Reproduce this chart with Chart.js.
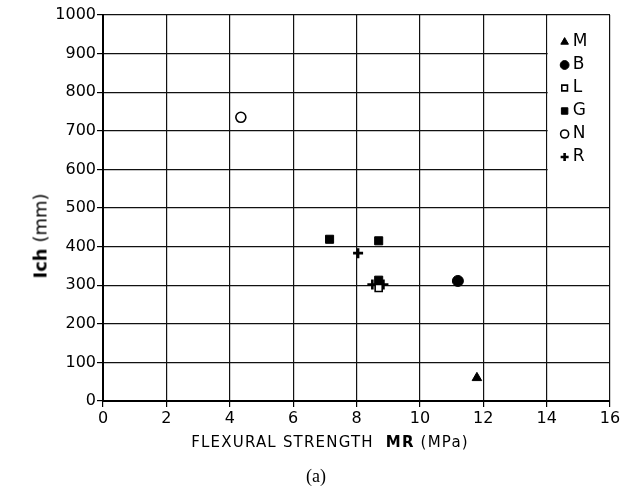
<!DOCTYPE html>
<html><head><meta charset="utf-8">
<script src="https://cdn.jsdelivr.net/npm/chart.js@4/dist/chart.umd.min.js"></script>
<style>
html,body{margin:0;padding:0;background:#fff;}
#wrap{position:relative;width:632px;height:494px;overflow:hidden;}
canvas{position:absolute;left:0;top:0;}
.t{position:absolute;font-family:"DejaVu Sans",sans-serif;color:#000;white-space:nowrap;}
</style></head><body>
<div id="wrap">
<canvas id="c" width="632" height="494"></canvas>
<div class="t" id="yt" style="left:40px;top:236px;font-size:18px;transform:translate(-50%,-50%) rotate(-90deg);"><b>Ich</b> (mm)</div>
<div class="t" id="xt" style="left:330px;top:442px;font-size:15px;letter-spacing:1.2px;transform:translate(-50%,-50%);">FLEXURAL STRENGTH&nbsp;&nbsp;<b>MR</b> (MPa)</div>
<div class="t" id="cap" style="left:316px;top:476px;font-size:18px;font-family:'Liberation Serif',serif;transform:translate(-50%,-50%);">(a)</div>
</div>
<script>
// ---- data ----
const seriesNames = ['M','B','L','G','N','R'];
const xM = [11.8];            const yM = [60];
const xB = [11.2];            const yB = [311];
const xL = [8.7];             const yL = [293];
const xG = [7.15, 8.7, 8.7];  const yG = [419, 415, 313];
const xN = [4.35];            const yN = [735];
const xR = [8.05, 8.5, 8.85]; const yR = [383, 302, 302];
const xTickLabels = ['0','2','4','6','8','10','12','14','16'];
const yTickLabels = ['0','100','200','300','400','500','600','700','800','900','1000'];

function pts(xs, ys){ return xs.map((x,i)=>({x:x, y:ys[i]})); }

const styles = {
  M:{pointStyle:'triangle', radius:5.5, bg:'#000', bw:1},
  B:{pointStyle:'circle', radius:5.5, bg:'#000', bw:1},
  L:{pointStyle:'rect', radius:5, bg:'#fff', bw:1.6},
  G:{pointStyle:'rect', radius:5.7, bg:'#000', bw:1},
  N:{pointStyle:'circle', radius:5, bg:'#fff', bw:1.6},
  R:{pointStyle:'cross', radius:5, bg:'#000', bw:2.6}
};
const xs = {M:xM,B:xB,L:xL,G:xG,N:xN,R:xR};
const ys = {M:yM,B:yB,L:yL,G:yG,N:yN,R:yR};

const datasets = seriesNames.map(n=>({
  label:n, data:pts(xs[n], ys[n]),
  pointStyle:styles[n].pointStyle, pointRadius:styles[n].radius,
  backgroundColor:styles[n].bg, borderColor:'#000', borderWidth:styles[n].bw,
  showLine:false
}));

const legendCell = {
  id:'legendCell',
  beforeDatasetsDraw(chart){
    const c = chart.ctx, sx = chart.scales.x, sy = chart.scales.y;
    const l = sx.getPixelForValue(14), r = sx.getPixelForValue(16);
    const t = sy.getPixelForValue(1000), b = sy.getPixelForValue(500);
    c.save();
    c.fillStyle = '#fff';
    c.fillRect(l+1, t+1, r-l-2, b-t-2);
    c.restore();
  },
  afterDatasetsDraw(chart){
    const c = chart.ctx, sx = chart.scales.x, sy = chart.scales.y;
    const l = sx.getPixelForValue(14);
    const t = sy.getPixelForValue(1000);
    c.save();
    chart.data.datasets.forEach((ds,i)=>{
      const y = t + 27 + i*23;
      const x = l + 18;
      c.fillStyle = ds.backgroundColor; c.strokeStyle = '#000';
      c.lineWidth = ds.borderWidth;
      Chart.helpers.drawPoint(c, {pointStyle:ds.pointStyle, radius:ds.pointRadius*0.8, rotation:0, borderWidth:ds.borderWidth}, x, y);
      c.fillStyle = '#000';
      c.font = '17px "DejaVu Sans"';
      c.textBaseline = 'middle';
      c.textAlign = 'left';
      c.fillText(ds.label, x + 8, y);
    });
    c.restore();
  }
};

new Chart(document.getElementById('c'), {
  type:'scatter',
  data:{datasets:datasets},
  options:{
    responsive:false, animation:false, devicePixelRatio:1,
    layout:{padding:{top:15, right:22, left:0, bottom:0}},
    plugins:{legend:{display:false}, tooltip:{enabled:false}},
    scales:{
      x:{type:'linear', min:0, max:16,
        ticks:{stepSize:2, color:'#000', padding:2, maxRotation:0, autoSkip:false,
          font:{family:'DejaVu Sans', size:16},
          callback:(v,i)=>xTickLabels[i]},
        grid:{color:'#111', lineWidth:1.2, tickLength:6, tickColor:'#000'},
        border:{color:'#000', width:2},
        afterFit(s){ s.height = 93; }
      },
      y:{type:'linear', min:0, max:1000,
        ticks:{stepSize:100, color:'#000', padding:1, autoSkip:false,
          font:{family:'DejaVu Sans', size:16},
          callback:(v,i)=>yTickLabels[i]},
        grid:{color:'#111', lineWidth:1.2, tickLength:6, tickColor:'#000'},
        border:{color:'#000', width:2},
        afterFit(s){ s.width = 103; }
      }
    }
  },
  plugins:[legendCell]
});
</script>
</body></html>
